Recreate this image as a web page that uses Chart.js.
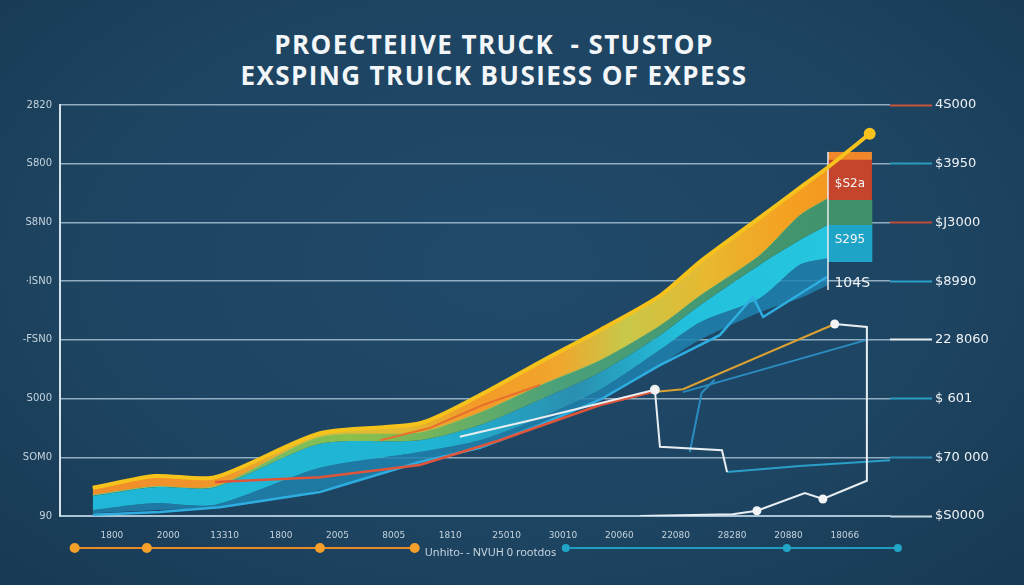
<!DOCTYPE html>
<html>
<head>
<meta charset="utf-8">
<script src="https://cdn.jsdelivr.net/npm/chart.js@4.4.1/dist/chart.umd.min.js"></script>
<style>
  html, body { margin: 0; padding: 0; }
  body {
    width: 1024px; height: 585px; overflow: hidden; position: relative;
    background: radial-gradient(ellipse at 50% 45%, #21496a 0%, #1d4461 60%, #183953 100%);
  }
  #title {
    position: absolute; left: 0; top: 29px; width: 988px; text-align: center;
    color: #f3f6f8; font: 700 26px/31px "Open Sans", sans-serif; letter-spacing: 1.4px;
  }
  canvas { position: absolute; left: 0; top: 0; }
</style>
</head>
<body>
<div id="title">PROECTEIIVE TRUCK &nbsp;- STUSTOP<br>EXSPING TRUICK BUSIESS OF EXPESS</div>
<canvas id="chart" width="1024" height="585"></canvas>
<script>
// axis text
const xLabels = ["1800", "2000", "13310", "1800", "2005", "8005", "1810", "25010", "30010", "20060", "22080", "28280", "20880", "18066"];
const yTicks = [0, 1, 2, 3, 4, 5, 6, 7];
const leftLabels = ["90", "SOM0", "S000", "-FSN0", "·ISN0", "S8N0", "S800", "2820"];
const rightLabels = ["$S0000", "$70 000", "$ 601", "22 8060", "$8990", "$J3000", "$3950", "4S000"];

// stacked bands (shared x)
const bandX = [0.66, 1.76, 2.83, 4.69, 6.46, 7.53, 8.59, 9.66, 10.72, 11.43, 12.49, 13.2, 13.7];
const yellowX = [0.66, 1.76, 2.83, 4.69, 6.46, 7.53, 8.59, 9.66, 10.72, 11.43, 12.49, 13.2, 13.7, 14.44];
const yellowY = [0.48, 0.68, 0.66, 1.41, 1.58, 2.06, 2.62, 3.17, 3.75, 4.33, 5.08, 5.59, 5.94, 6.51];
const greenTop = [0.36, 0.51, 0.51, 1.35, 1.43, 1.77, 2.23, 2.66, 3.25, 3.76, 4.45, 5.13, 5.42];
const cyanTop = [0.34, 0.49, 0.49, 1.23, 1.29, 1.55, 1.98, 2.45, 3.08, 3.59, 4.28, 4.70, 4.96];
const cyanBottom = [0.10, 0.22, 0.19, 0.82, 1.09, 1.29, 1.67, 2.15, 2.83, 3.30, 3.71, 4.28, 4.39];
const tealBottom = [0.05, 0.10, 0.15, 0.44, 0.92, 1.16, 1.55, 1.98, 2.57, 3.00, 3.47, 3.71, 3.93];

// single lines
const blueX = [0.66, 1.85, 2.92, 4.69, 6.46, 7.53, 8.59, 9.66, 10.72, 11.78, 12.37, 12.55, 13.68];
const blueY = [0.02, 0.07, 0.15, 0.41, 0.92, 1.16, 1.55, 1.98, 2.57, 3.08, 3.73, 3.39, 4.07];
const redX = [2.83, 4.69, 6.46, 7.88, 9.66, 10.58];
const redY = [0.58, 0.66, 0.87, 1.29, 1.89, 2.11];
const red2X = [5.76, 6.64, 7.58, 8.59];
const red2Y = [1.29, 1.50, 1.89, 2.23];
const whiteX = [7.17, 8.47, 10.63, 10.72, 11.82, 11.91];
const whiteY = [1.35, 1.64, 2.15, 1.18, 1.12, 0.75];
const tealX = [11.91, 13.2, 14.8];
const tealY = [0.75, 0.85, 0.95];
const white2X = [10.37, 12.01, 12.44, 13.29, 13.61, 14.39, 14.39, 13.82];
const white2Y = [0, 0.03, 0.09, 0.39, 0.29, 0.60, 3.22, 3.27];
const goldX = [10.6, 11.13, 13.82];
const goldY = [2.11, 2.16, 3.27];
const blue2X = [11.13, 14.39];
const blue2Y = [2.11, 3.0];
const blue3X = [11.25, 11.46, 11.69];
const blue3Y = [1.09, 2.10, 2.32];
const markX = [13.7, 13.7];
const markY = [6.2, 3.85];

// block at the end
const blockX = 14.09;
const blockRed = [5.38, 6.2];
const blockGreen = [4.96, 5.38];
const blockCyan = [4.33, 4.96];

// strip under the axis
const stripY = -0.545;
const stripOrangeX = [0.34, 1.62, 4.69, 6.37];
const stripTealX = [9.05, 12.97, 14.94];

const notes = [
  { text: "$S2a", x: 14.09, y: 5.66, size: 12 },
  { text: "S295", x: 14.09, y: 4.70, size: 12 },
  { text: "104S", x: 14.13, y: 3.97, size: 14 }
];
const stripText = { text: "Unhito- - NVUH 0 rootdos", x: 6.55, y: -0.62 };

const rightTickColors = ["#c8d8e4", "#2a90b8", "#2a9cc0", "#e8f0f4", "#2aa0c8", "#c04a38", "#2a9cc0", "#c8553a"];

const pts = (xs, ys) => xs.map((x, i) => ({ x, y: ys[i] }));
const lastDot = (r) => (ctx) => ctx.dataIndex === ctx.dataset.data.length - 1 ? r : 0;

function hGradient(ctx, stops) {
  const area = ctx.chart.chartArea;
  if (!area) return stops[0][1];
  const g = ctx.chart.ctx.createLinearGradient(area.left, 0, area.right, 0);
  stops.forEach(s => g.addColorStop(s[0], s[1]));
  return g;
}

// text inside the plot, plus the dots of the strip (they sit outside the chart area)
const textPlugin = {
  id: "notes",
  afterDatasetsDraw(chart) {
    const { ctx, scales } = chart;
    ctx.save();
    const dot = (x, r, color) => {
      ctx.beginPath();
      ctx.arc(scales.x.getPixelForValue(x), scales.y.getPixelForValue(stripY), r, 0, Math.PI * 2);
      ctx.fillStyle = color;
      ctx.fill();
    };
    stripOrangeX.forEach(x => dot(x, 5, "#f4a02a"));
    stripTealX.forEach(x => dot(x, 4, "#22a6c8"));

    ctx.textBaseline = "middle";
    notes.forEach(n => {
      ctx.fillStyle = "#f2f4f6";
      ctx.font = n.size + "px 'DejaVu Sans', sans-serif";
      ctx.textAlign = "center";
      ctx.fillText(n.text, scales.x.getPixelForValue(n.x), scales.y.getPixelForValue(n.y));
    });
    ctx.fillStyle = "#c8d6e0";
    ctx.font = "11px 'Noto Sans', sans-serif";
    ctx.textAlign = "left";
    ctx.fillText(stripText.text, scales.x.getPixelForValue(stripText.x), scales.y.getPixelForValue(stripText.y));
    ctx.restore();
  }
};

const line = (xs, ys, color, width, extra) => Object.assign({
  type: "line",
  data: pts(xs, ys),
  borderColor: color,
  borderWidth: width,
  pointRadius: 0,
  tension: 0,
  fill: false
}, extra || {});

const bar = (range, color, extra) => Object.assign({
  type: "bar",
  data: [{ x: blockX, y: range }],
  backgroundColor: color,
  barThickness: 44,
  grouped: false,
  borderSkipped: false,
  borderWidth: 0,
  order: 4
}, extra || {});

new Chart(document.getElementById("chart"), {
  type: "line",
  data: {
    datasets: [
      line(yellowX, yellowY, "#f6c21c", 4, { tension: 0.25, order: 1, pointRadius: lastDot(4), pointBackgroundColor: "#f6c21c" }),
      line(whiteX, whiteY, "#e8eef2", 2, { order: 2, pointRadius: (c) => c.dataIndex === 2 ? 4 : 0, pointBackgroundColor: "#f2f4f6" }),
      line(white2X, white2Y, "#e8eef2", 2, { order: 2, pointRadius: (c) => [2, 4, 7].includes(c.dataIndex) ? 4.5 : 0, pointBackgroundColor: "#f2f4f6", pointBorderWidth: 0 }),
      line(goldX, goldY, "#d9a032", 2, { order: 2 }),
      line(markX, markY, "#e8eef2", 1.5, { order: 2 }),
      line(redX, redY, "#e0553a", 2.5, { order: 3 }),
      line(red2X, red2Y, "#e8702e", 2, { order: 3 }),
      line(blueX, blueY, "#2eaee0", 2.5, { order: 3 }),
      line(blue2X, blue2Y, "#2a8cc0", 2, { order: 3 }),
      line(blue3X, blue3Y, "#2a8cc0", 2, { order: 3 }),
      line(tealX, tealY, "#2aa0c8", 2, { order: 3 }),
      bar(blockRed, "#c4442c", { borderColor: "#f0872a", borderWidth: { top: 8, left: 0, right: 0, bottom: 0 } }),
      bar(blockGreen, "#3f9068"),
      bar(blockCyan, "#1ea4c6"),
      // bands, each filled to the next one
      line(bandX, yellowY.slice(0, bandX.length), "rgba(0,0,0,0)", 0, {
        tension: 0.25, order: 5, fill: "+1",
        backgroundColor: (c) => hGradient(c, [[0, "#f08a2a"], [0.2, "#f0962a"], [0.3, "#d8c03a"], [0.42, "#e4b630"], [0.5, "#f39a28"], [0.6, "#f0a62c"], [0.68, "#c8c84a"], [0.78, "#e8b830"], [0.88, "#f5a020"], [1, "#f08a24"]])
      }),
      line(bandX, greenTop, "rgba(200,210,80,0.8)", 1, {
        tension: 0.25, order: 6, fill: "+1",
        backgroundColor: (c) => hGradient(c, [[0, "#2fb0b0"], [0.35, "#8cc04a"], [0.6, "#4aa07a"], [1, "#3f9068"]])
      }),
      line(bandX, cyanTop, "rgba(0,0,0,0)", 0, {
        tension: 0.25, order: 7, fill: "+1",
        backgroundColor: (c) => hGradient(c, [[0, "#1fb8d8"], [0.45, "#20b4d4"], [0.62, "#2a8fb0"], [0.75, "#22c0dc"], [1, "#28c8e0"]])
      }),
      line(bandX, cyanBottom, "rgba(0,0,0,0)", 0, {
        tension: 0.25, order: 8, fill: "+1", backgroundColor: "rgba(30,130,175,0.85)"
      }),
      line(bandX, tealBottom, "rgba(0,0,0,0)", 0, { tension: 0.25, order: 9 }),
      // strip below the axis
      line(stripOrangeX, stripOrangeX.map(() => stripY), "#e88a2a", 2, { order: 1, clip: false }),
      line(stripTealX, stripTealX.map(() => stripY), "#1f9ec0", 2, { order: 1, clip: false })
    ]
  },
  options: {
    responsive: false,
    animation: false,
    devicePixelRatio: 1,
    layout: { padding: { left: 15, right: 0, top: 105, bottom: 0 } },
    plugins: { legend: { display: false }, tooltip: { enabled: false } },
    scales: {
      x: {
        type: "linear", min: 0.08, max: 14.8, offset: false,
        afterBuildTicks: (s) => { s.ticks = xLabels.map((_, i) => ({ value: i + 1 })); },
        afterFit: (s) => { s.height = 69; },
        grid: { display: false },
        border: { display: true, color: "#a9c4d6", width: 2 },
        ticks: {
          autoSkip: false, maxRotation: 0, padding: 6, color: "#c5d3dd",
          font: { size: 9, family: "'DejaVu Sans', sans-serif" },
          callback: (v, i) => xLabels[i]
        }
      },
      y: {
        min: 0, max: 7, position: "left",
        afterBuildTicks: (s) => { s.ticks = yTicks.map(v => ({ value: v })); },
        afterFit: (s) => { s.width = 45; },
        grid: { color: "rgba(175,200,218,0.8)", lineWidth: 1.5, drawTicks: false },
        border: { display: true, color: "#d5e2ea", width: 2 },
        ticks: {
          padding: 8, color: "#c5d3dd",
          font: { size: 10, family: "'DejaVu Sans', sans-serif" },
          callback: (v, i) => leftLabels[i]
        }
      },
      y2: {
        min: 0, max: 7, position: "right",
        afterBuildTicks: (s) => { s.ticks = yTicks.map(v => ({ value: v })); },
        afterFit: (s) => { s.width = 134; },
        grid: {
          drawOnChartArea: false, drawTicks: true, tickLength: 42, tickWidth: 2,
          tickColor: (c) => rightTickColors[c.index]
        },
        border: { display: false },
        ticks: {
          padding: 3, color: "#eef2f5",
          font: { size: 13, family: "'DejaVu Sans', sans-serif" },
          callback: (v, i) => rightLabels[i]
        }
      }
    }
  },
  plugins: [textPlugin]
});
</script>
</body>
</html>
